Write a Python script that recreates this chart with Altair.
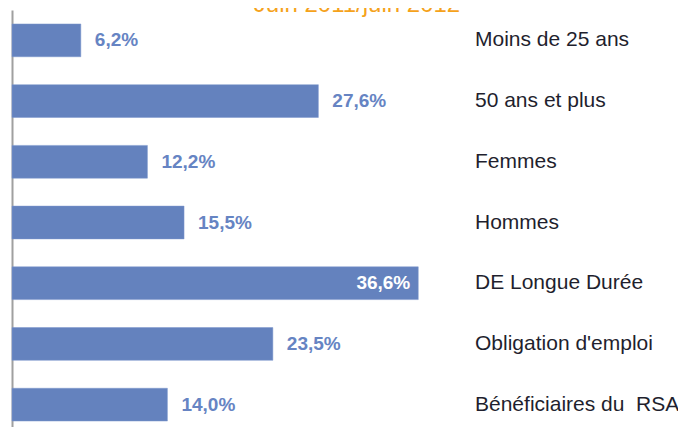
import altair as alt
import pandas as pd

categories = ["Moins de 25 ans", "50 ans et plus", "Femmes", "Hommes",
              "DE Longue Durée", "Obligation d'emploi", "Bénéficiaires du\u00a0 RSA"]
values = [6.2, 27.6, 12.2, 15.5, 36.6, 23.5, 14.0]
labels = ["6,2%", "27,6%", "12,2%", "15,5%", "36,6%", "23,5%", "14,0%"]
title_text = "Juin 2011/juin 2012"

df = pd.DataFrame({"cat": categories, "v": values, "lab": labels})

FONT = "Liberation Sans"
BAR = "#6482BE"

y_enc = alt.Y("cat:N", sort=categories,
              scale=alt.Scale(paddingInner=0.46, paddingOuter=0.23),
              axis=alt.Axis(labels=False, ticks=False, title=None,
                            domainColor="#A0A0A0", domainWidth=2, grid=False))
x_scale = alt.Scale(domain=[0, 60])

base = alt.Chart(df)

bars = base.mark_bar(color=BAR, stroke="#7D97CC", strokeWidth=0.5).encode(
    x=alt.X("v:Q", scale=x_scale, axis=None),
    y=y_enc,
)

outside = base.transform_filter("datum.v < 30").mark_text(
    align="left", baseline="middle", dx=14, font=FONT, fontSize=19,
    fontWeight="bold", color="#6684C3"
).encode(x=alt.X("v:Q", scale=x_scale), y=alt.Y("cat:N", sort=categories), text="lab:N")

inside = base.transform_filter("datum.v >= 30").mark_text(
    align="right", baseline="middle", dx=-8, font=FONT, fontSize=19,
    fontWeight="bold", color="white"
).encode(x=alt.X("v:Q", scale=x_scale), y=alt.Y("cat:N", sort=categories), text="lab:N")

cats = base.mark_text(
    align="left", baseline="middle", font=FONT, fontSize=21, color="#1F1F2E"
).encode(x=alt.value(463), y=alt.Y("cat:N", sort=categories), text="cat:N")

title_df = pd.DataFrame({"t": [title_text]})
title = alt.Chart(title_df).mark_text(
    align="center", baseline="alphabetic", font=FONT, fontSize=24, color="#F5A21B"
).encode(x=alt.value(345), y=alt.value(2), text="t:N")

chart = alt.layer(bars, outside, inside, cats, title).properties(
    width=666, height=425,
    autosize=alt.AutoSizeParams(type="none"),
    padding={"left": 4, "top": 2, "right": 0, "bottom": 0},
).configure_view(stroke=None)

chart.save("out.html", embed_options={"renderer": "svg", "actions": False})
